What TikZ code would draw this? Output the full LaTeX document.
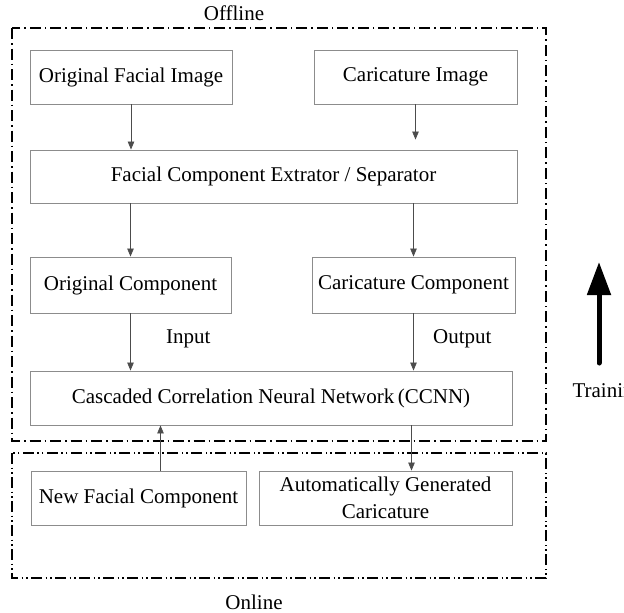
\documentclass[tikz,border=0pt]{standalone}
\usepackage{fontspec}
\setmainfont{Liberation Serif}
\usepackage{tikz}
\usetikzlibrary{arrows.meta}

\tikzset{
  stage/.style={draw=black!45, line width=0.9pt, inner sep=0pt, align=center,
    minimum height=54pt},
  flow/.style={draw=black!70, line width=0.8pt, -{Triangle[length=8pt,width=6.5pt]}},
  offgroup/.style={line width=2.4pt, dash pattern=on 11pt off 4pt on 1.5pt off 4pt},
  ongroup/.style={line width=2.4pt, dash pattern=on 11pt off 3.5pt on 1.5pt off 3pt on 1.5pt off 3.5pt}
}

\begin{document}
\begin{tikzpicture}[x=1pt, y=-1pt, font=\fontsize{21}{25}\selectfont]
        \useasboundingbox (0,0) rectangle (624,613);

        % offline / online groups
        \draw[offgroup] (12,28) rectangle (546,441);
        \draw[ongroup] (12,453) rectangle (546,578);
        \node (offline) at (234,13) {Offline};
        \node (online) at (254,602) {Online};

        % offline boxes
        \node[stage, minimum width=202pt] (ofi) at (131,77) {Original Facial Image};
        \node[stage, minimum width=203pt] (cim) at (415.5,77) {Caricature Image};
        \node[stage, minimum width=487pt, minimum height=53pt] (fce) at (273.5,176.5) {Facial Component Extrator / Separator};
        \node[stage, minimum width=201pt, minimum height=56pt] (oco) at (130.5,285) {Original Component};
        \node[stage, minimum width=203pt, minimum height=56pt] (cco) at (413.5,285) {Caricature Component};
        \node[stage, minimum width=482pt] (ccnn) at (271,398) {Cascaded Correlation Neural Network\,(CCNN)};

        % online boxes
        \node[stage, minimum width=215pt] (nfc) at (138.5,498) {New Facial Component};
        \node[stage, minimum width=253pt] (agc) at (385.5,498) {Automatically Generated\\[2pt]Caricature};

        % flow
        \draw[flow] (ofi.south) -- (ofi.south |- fce.north);
        \draw[flow, shorten >=10pt] (cim.south) -- (cim.south |- fce.north);
        \draw[flow] (fce.south -| oco.north) -- (oco.north);
        \draw[flow] (fce.south -| cco.north) -- (cco.north);
        \draw[flow] (oco.south) -- (oco.south |- ccnn.north) node[pos=0.45, right=32pt] (input) {Input};
        \draw[flow] (cco.south) -- (cco.south |- ccnn.north) node[pos=0.45, right=16pt] (output) {Output};
        \draw[flow] ([xshift=-2pt]cco.south |- ccnn.south) -- ([xshift=-2pt]cco.south |- agc.north);
        \draw[flow] ([xshift=22pt]nfc.north) -- ([xshift=22pt]nfc.north |- ccnn.south);

        % training
        \coordinate (tbot) at (599,363);
        \coordinate (ttop) at (599,262);
        \draw[line width=5pt, line cap=round, -{Triangle[length=33pt,width=23pt]}] (tbot) -- (ttop);
        \node[anchor=west] (training) at (569,393) {Training};
\end{tikzpicture}
\end{document}
